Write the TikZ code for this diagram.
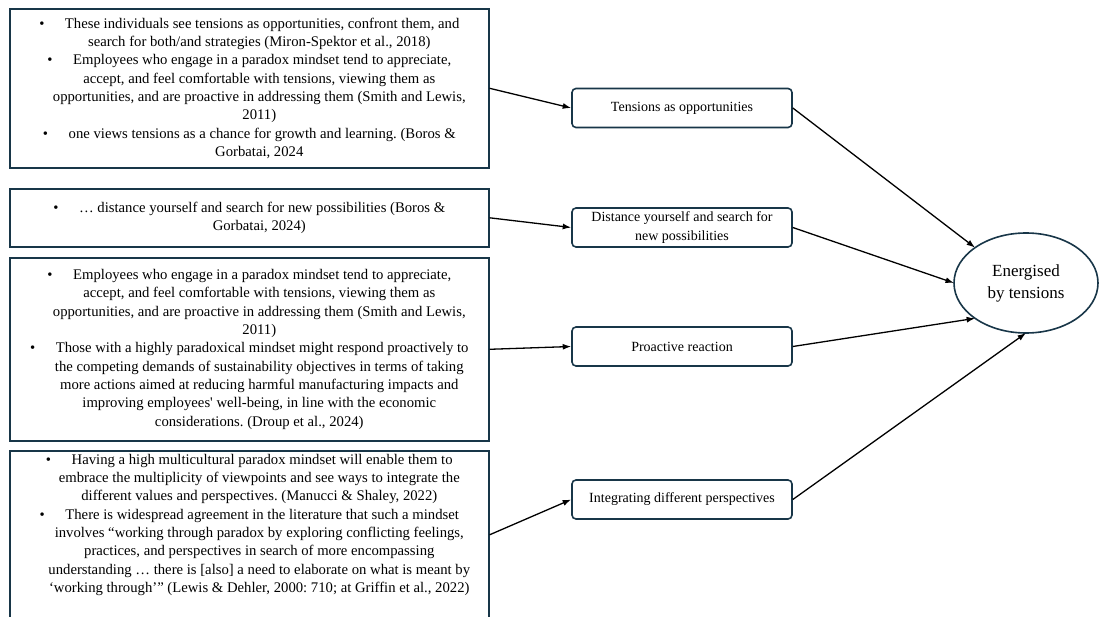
\documentclass[tikz,border=0pt]{standalone}
\usepackage{fontspec}
\setmainfont{Liberation Serif}[Ligatures=TeXOff]
\usepackage{xcolor}
\usetikzlibrary{arrows.meta,shapes.geometric}

\definecolor{boxline}{RGB}{24,54,72}
% hanging bullet: first line starts 20pt left of the others
\newcommand{\bul}{\hspace*{-20pt}\textbullet\hspace{1.4em}}
\newcommand{\notetext}[1]{\parbox{467pt}{\centering\leftskip=20pt plus 1fil\relax #1}}
\frenchspacing

\begin{document}
\begin{tikzpicture}[x=1pt,y=-1pt,
    notebox/.style={draw=boxline,line width=1.6pt,anchor=north west,
        inner xsep=6pt,inner ysep=2pt,font=\fontsize{14.7}{18.3}\selectfont},
    themebox/.style={draw=boxline,line width=1.6pt,rounded corners=4pt,minimum width=220pt,
        minimum height=39pt,inner ysep=2pt,align=center,font=\fontsize{14}{18.3}\selectfont},
    link/.style={-{Latex[length=8.5pt,width=6pt]},line width=1.3pt}]
    \useasboundingbox (0,0) rectangle (1099,617);

    % literature boxes
    \node[notebox,minimum height=159pt] (n1) at (9,8) {\notetext{\bul These individuals see tensions as opportunities, confront them, and\\
        search for both/and strategies (Miron-Spektor et al., 2018)\\
        \bul Employees who engage in a paradox mindset tend to appreciate,\\
        accept, and feel comfortable with tensions, viewing them as\\
        opportunities, and are proactive in addressing them (Smith and Lewis,\\
        2011)\\
        \bul one views tensions as a chance for growth and learning. (Boros \&\\
        Gorbatai, 2024}};
    \node[notebox,minimum height=58pt] (n2) at (9,188) {\notetext{\bul … distance yourself and search for new possibilities (Boros \&\\
        Gorbatai, 2024)}};
    \node[notebox,minimum height=183pt] (n3) at (9,257) {\notetext{\bul Employees who engage in a paradox mindset tend to appreciate,\\
        accept, and feel comfortable with tensions, viewing them as\\
        opportunities, and are proactive in addressing them (Smith and Lewis,\\
        2011)\\
        \bul Those with a highly paradoxical mindset might respond proactively to\\
        the competing demands of sustainability objectives in terms of taking\\
        more actions aimed at reducing harmful manufacturing impacts and\\
        improving employees' well-being, in line with the economic\\
        considerations. (Droup et al., 2024)}};
    \node[notebox,minimum height=168pt] (n4) at (9,450) {\notetext{\bul Having a high multicultural paradox mindset will enable them to\\
        embrace the multiplicity of viewpoints and see ways to integrate the\\
        different values and perspectives. (Manucci \& Shaley, 2022)\\
        \bul There is widespread agreement in the literature that such a mindset\\
        involves “working through paradox by exploring conflicting feelings,\\
        practices, and perspectives in search of more encompassing\\
        understanding … there is [also] a need to elaborate on what is meant by\\
        ‘working through’” (Lewis \& Dehler, 2000: 710; at Griffin et al., 2022)\\[5pt]
        ~}};

    % themes
    \node[themebox] (tens) at (682,108) {Tensions as opportunities};
    \node[themebox] (dist) at (682,227.5) {Distance yourself and search for\\new possibilities};
    \node[themebox] (proact) at (682,346.5) {Proactive reaction};
    \node[themebox] (integ) at (682,499.5) {Integrating different perspectives};

    \node[ellipse,draw=boxline,line width=1.6pt,minimum width=144pt,minimum height=100pt,
        inner sep=0pt,outer sep=0pt,align=center,font=\fontsize{17}{22}\selectfont] (energy) at (1026,283) {Energised\\by tensions};

    \draw[link] (n1.east) -- (tens.west);
    \draw[link] (n2.east) -- (dist.west);
    \draw[link] (n3.east) -- (proact.west);
    \draw[link] (n4.east) -- (integ.west);

    \draw[link] (tens.east) -- (energy.north west);
    \draw[link] (dist.east) -- (energy.west);
    \draw[link] (proact.east) -- (energy.south west);
    \draw[link] (integ.east) -- (energy.south);
\end{tikzpicture}
\end{document}
